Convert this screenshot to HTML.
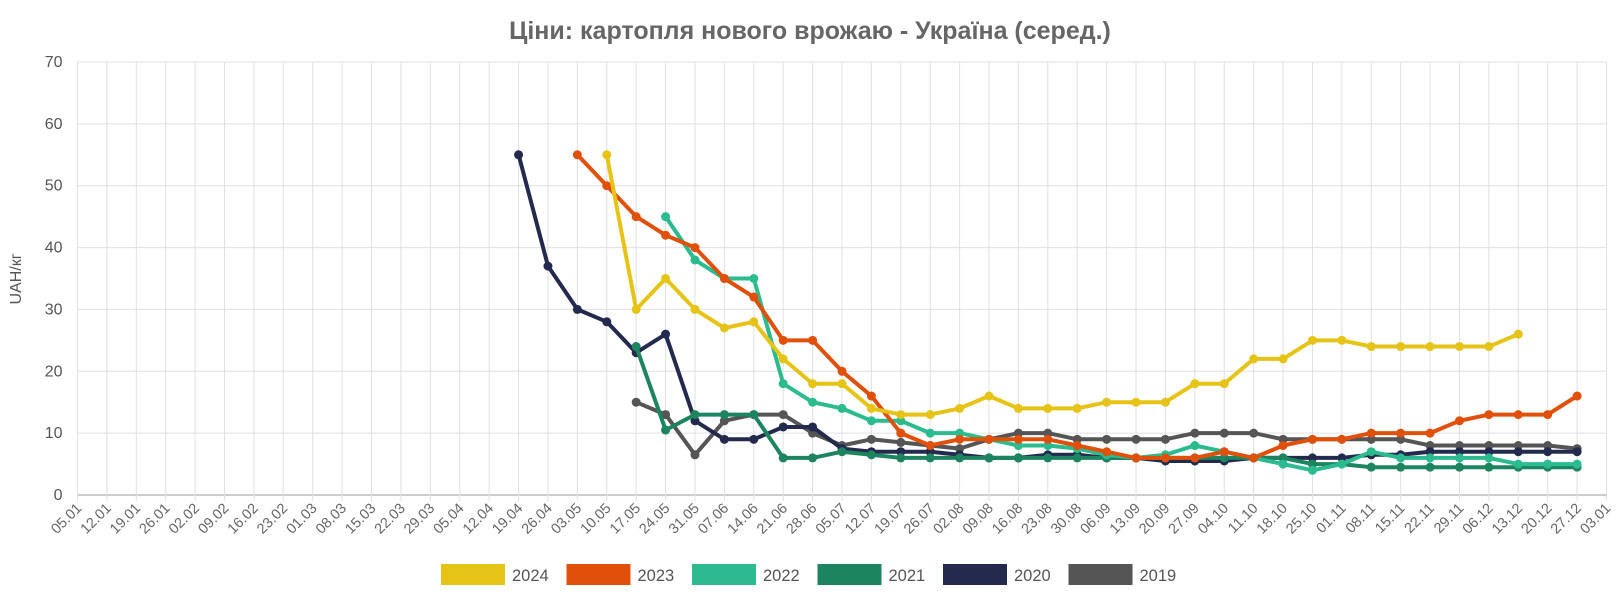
<!DOCTYPE html>
<html><head><meta charset="utf-8"><style>
body{margin:0;background:#fff;font-family:"Liberation Sans",sans-serif;}
svg text{font-family:"Liberation Sans",sans-serif;}
</style></head><body>
<svg id="chart" width="1620" height="600">
<text x="810" y="39" text-anchor="middle" font-size="25" font-weight="bold" fill="#666">Ціни: картопля нового врожаю - Україна (серед.)</text>
<text transform="translate(21,279) rotate(-90)" text-anchor="middle" font-size="16" fill="#555">UAH/кг</text>
<g id="grid"></g><g id="series"></g><g id="legend"></g>
</svg>
<script>
const categories=["05.01","12.01","19.01","26.01","02.02","09.02","16.02","23.02","01.03","08.03","15.03","22.03","29.03","05.04","12.04","19.04","26.04","03.05","10.05","17.05","24.05","31.05","07.06","14.06","21.06","28.06","05.07","12.07","19.07","26.07","02.08","09.08","16.08","23.08","30.08","06.09","13.09","20.09","27.09","04.10","11.10","18.10","25.10","01.11","08.11","15.11","22.11","29.11","06.12","13.12","20.12","27.12","03.01"];
const yTicks=[0,10,20,30,40,50,60,70];
const seriesNames=["2024","2023","2022","2021","2020","2019"];
const seriesColors=["#e6c317","#e0500a","#2bbb8f","#1c8560","#232a4e","#555555"];
const seriesStart=[18,17,20,19,15,19];
const s2024=[55,30,35,30,27,28,22,18,18,14,13,13,14,16,14,14,14,15,15,15,18,18,22,22,25,25,24,24,24,24,24,26];
const s2023=[55,50,45,42,40,35,32,25,25,20,16,10,8,9,9,9,9,8,7,6,6,6,7,6,8,9,9,10,10,10,12,13,13,13,16];
const s2022=[45,38,35,35,18,15,14,12,12,10,10,9,8,8,7.5,6.5,6,6.5,8,7,6,5,4,5,7,6,6,6,6,5,5,5];
const s2021=[24,10.5,13,13,13,6,6,7,6.5,6,6,6,6,6,6,6,6,6,6,6,6,6,6,5,5,4.5,4.5,4.5,4.5,4.5,4.5,4.5,4.5];
const s2020=[55,37,30,28,23,26,12,9,9,11,11,7.5,7,7,7,6.5,6,6,6.5,6.5,6,6,5.5,5.5,5.5,6,6,6,6,6.5,6.5,7,7,7,7,7,7];
const s2019=[15,13,6.5,12,13,13,10,8,9,8.5,8,7.5,9,10,10,9,9,9,9,10,10,10,9,9,9,9,9,8,8,8,8,8,7.5];
const seriesData=[s2024,s2023,s2022,s2021,s2020,s2019];
const NS="http://www.w3.org/2000/svg";
const X0=77.5,X1=1606.5,Y0=495,Y1=62;
const xPos=i=>X0+(X1-X0)*i/(categories.length-1);
const yPos=v=>Y0-(Y0-Y1)*v/70;
function mk(tag,attrs,parent){const e=document.createElementNS(NS,tag);for(const k in attrs)e.setAttribute(k,attrs[k]);parent.appendChild(e);return e;}
const grid=document.getElementById('grid');
yTicks.forEach(t=>{
 const l=mk('line',{x1:X0,x2:X1,y1:yPos(t),y2:yPos(t),stroke:t===0?'#999':'#e0e0e0','stroke-width':1},grid);
 
 
 const tx=mk('text',{x:X0-15,y:yPos(t)+5,'text-anchor':'end','font-size':16,fill:'#555'},grid);
 tx.textContent=t;
 
 
});
categories.forEach((c,i)=>{
 const x=xPos(i);
 const l=mk('line',{x1:x,x2:x,y1:Y1,y2:Y0+6,stroke:'#e0e0e0','stroke-width':1},grid);
 
 
 const tx=mk('text',{transform:`translate(${x+5},${Y0+14}) rotate(-45)`,'text-anchor':'end','font-size':14.5,fill:'#666'},grid);
 tx.textContent=c;
 
 
});
const sg=document.getElementById('series');
for(let s=seriesData.length-1;s>=0;s--){
 const d=seriesData[s],st=seriesStart[s],col=seriesColors[s];
 const g=mk('g',{},sg);
 
 
 const pts=d.map((v,k)=>xPos(st+k).toFixed(1)+','+yPos(v).toFixed(1)).join(' ');
 const pl=mk('polyline',{points:pts,fill:'none',stroke:col,'stroke-width':4,'stroke-linejoin':'round'},g);
 
 
 d.forEach((v,k)=>{
  const c=mk('circle',{cx:xPos(st+k),cy:yPos(v),r:4.5,fill:col},g);
  
  
 });
}
const lg=document.getElementById('legend');
seriesNames.forEach((n,i)=>{
 const x=441+i*125.5;
 const g=mk('g',{},lg);
 
 
 mk('rect',{x:x,y:564,width:64,height:21,fill:seriesColors[i]},g);
 const t=mk('text',{x:x+71,y:581,'font-size':16.5,fill:'#555'},g);
 t.textContent=n;
});
</script>
</body></html>
